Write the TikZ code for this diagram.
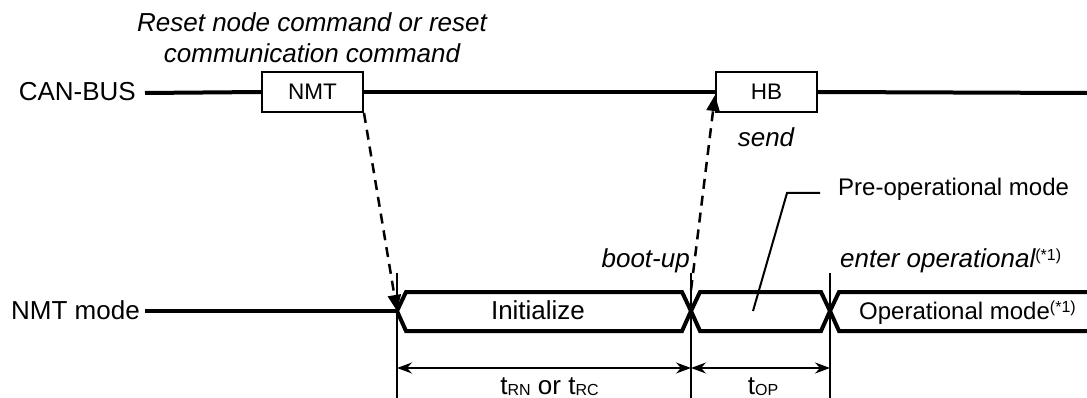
\documentclass[tikz,border=0pt]{standalone}
\usepackage{fontspec}
\setmainfont{Liberation Sans}
\usetikzlibrary{arrows.meta}
\newcommand{\fsz}{\fontsize{26}{30}\selectfont}
\newcommand{\fszs}{\fontsize{24}{28}\selectfont}
\newcommand{\fszb}{\fontsize{22.5}{26}\selectfont}
\newcommand{\subsz}[1]{\raisebox{-0.5pt}{\fontsize{16}{16}\selectfont #1}}
\newcommand{\supnote}{\raisebox{7pt}{\fontsize{16}{16}\selectfont\upshape(*1)}}
\begin{document}
\begin{tikzpicture}[x=1pt,y=-1pt,
  every node/.style={inner sep=0pt, font=\fsz},
  lbl/.style={font=\fsz\itshape},
  bus/.style={line width=4pt},
  box/.style={draw, line width=2pt, fill=white, minimum width=101pt, minimum height=40pt, font=\fszb},
  thinline/.style={line width=1.5pt},
  dimline/.style={line width=2pt, {Stealth[length=15pt,width=11pt,inset=5pt]}-{Stealth[length=15pt,width=11pt,inset=5pt]}},
  dasharrow/.style={line width=2.5pt, dash pattern=on 10pt off 7pt, -{Triangle[length=16pt,width=13pt]}},
  leader/.style={line width=2pt}
]
\useasboundingbox (0,0) rectangle (1087,398);

% CAN-BUS row
\node[anchor=base east] (canlbl) at (136,101) {CAN-BUS};
\node[box] (nmt) at (312.5,92) {NMT};
\node[box] (hb) at (766.5,92) {HB};
\coordinate (busend) at (1087,93);
\draw[bus] (145,93) -- (nmt.west);
\draw[bus] (nmt.east) -- (hb.west);
\draw[bus] (hb.east) -- (busend);
\node[lbl, anchor=base] (reset1) at (312,32) {Reset node command or reset};
\node[lbl, anchor=base] (reset2) at (312,63) {communication command};
\node[lbl, anchor=base] (send) at (766,147) {send};

% NMT mode row
\node[anchor=base east] (modelbl) at (140,319) {NMT mode};
\coordinate (c1) at (397,311);
\coordinate (c2) at (691,311);
\coordinate (c3) at (830,311);
\draw[bus] (145,311) -- (c1);
\draw[bus, line join=miter] (c1) -- (406,292) -- (682,292) -- (c2) -- (682,331) -- (406,331) -- cycle;
\draw[bus, line join=miter] (c2) -- (700,292) -- (821,292) -- (c3) -- (821,331) -- (700,331) -- cycle;
\draw[bus, line join=miter] (1087,292) -- (839,292) -- (c3) -- (839,331) -- (1087,331);
\node[anchor=base] (init) at (538,319) {Initialize};
\node[anchor=base west, font=\fszs] (opmode) at (859,319) {Operational mode\supnote};

% vertical markers
\coordinate (v1t) at (397,273); \coordinate (v1b) at (397,398);
\coordinate (v2t) at (691,273); \coordinate (v2b) at (691,398);
\coordinate (v3t) at (830,273); \coordinate (v3b) at (830,398);
\draw[thinline] (v1t) -- (v1b);
\draw[thinline] (v2t) -- (v2b);
\draw[thinline] (v3t) -- (v3b);

% dimension arrows
\coordinate (d1) at (397,368);
\coordinate (d2) at (691,368);
\coordinate (d3) at (830,368);
\draw[dimline] (d1) -- (d2);
\draw[dimline] (d2) -- (d3);
\node[anchor=base] (trn) at (549.5,394.5) {t\subsz{RN} or t\subsz{RC}};
\node[anchor=base] (top) at (763,394.5) {t\subsz{OP}};

% labels above mode row
\node[lbl, anchor=base east] (boot) at (690,267) {boot-up};
\node[lbl, anchor=base west] (enterop) at (840,267) {enter operational\supnote};

% pre-operational leader
\node[anchor=base west, font=\fszs] (preop) at (838,196) {Pre-operational mode};
\coordinate (pm) at (753,311);
\coordinate (pk) at (787,193);
\coordinate (pe) at (820,193);
\draw[leader] (pm) -- (pk) -- (pe);

% dashed message arrows
\coordinate (bootpt) at (691,290);
\draw[dasharrow] (nmt.south east) -- (c1);
\draw[dasharrow] (bootpt) -- ([yshift=-3pt]hb.west);
\end{tikzpicture}
\end{document}
